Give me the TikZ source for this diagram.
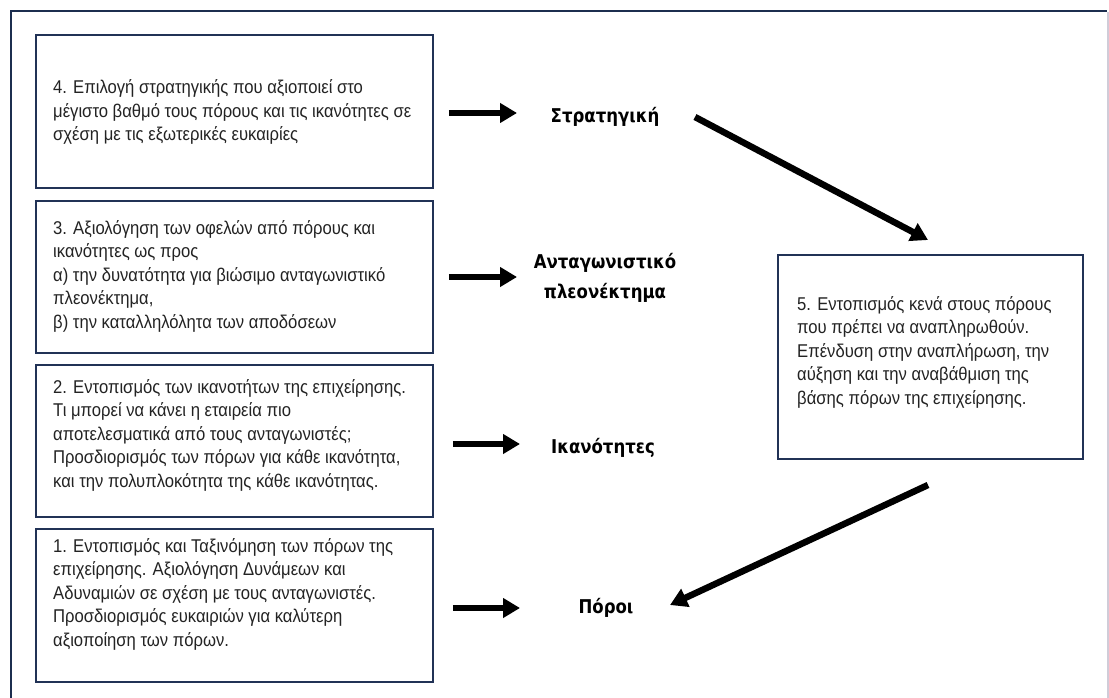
\documentclass[tikz,border=0pt]{standalone}
\usepackage{fontspec}
\usetikzlibrary{arrows.meta}
\newfontfamily\bodyfont{Liberation Sans}[FakeStretch=0.9]
\newfontfamily\labelfont{DejaVu Sans}[FakeStretch=0.87]
\definecolor{frameblue}{RGB}{28,46,79}
\definecolor{boxblue}{RGB}{33,50,86}
\definecolor{textgray}{RGB}{35,35,35}
\definecolor{edgegray}{RGB}{208,204,216}
\tikzset{
  stagebox/.style={draw=boxblue, line width=1.6pt, inner sep=0pt},
  stagetext/.style={anchor=west, inner sep=0pt, align=left, text=textgray,
    font={\bodyfont\fontsize{18.5}{23.5}\selectfont}},
  outcome/.style={inner sep=0pt, align=center, text=black,
    font={\labelfont\bfseries\fontsize{19}{30}\selectfont}},
  bigarrow/.style={line width=6.5pt, -{Triangle[length=17pt,width=19pt]}},
}
\begin{document}
\begin{tikzpicture}[x=1pt,y=-1pt]
  \useasboundingbox (0,0) rectangle (1109,698);
  \fill[white] (0,0) rectangle (1109,698);

  % surrounding frame: dark on the left and top, light on the right
  \draw[edgegray, line width=1.5pt] (1108,12) -- (1108,698);
  \draw[frameblue, line width=2.5pt] (11,698) -- (11,11) -- (1107,11);

  % the five stages
  \node[stagebox, minimum width=397pt, minimum height=153pt] (b4) at (234.5,111.5) {};
  \node[stagebox, minimum width=397pt, minimum height=152pt] (b3) at (234.5,277) {};
  \node[stagebox, minimum width=397pt, minimum height=152pt] (b2) at (234.5,441) {};
  \node[stagebox, minimum width=397pt, minimum height=153pt] (b1) at (234.5,605.5) {};
  \node[stagebox, minimum width=305pt, minimum height=204pt] (b5) at (930.5,357) {};

  \node[stagetext] (t4) at (53,112) {4. Επιλογή στρατηγικής που αξιοποιεί στο\\
    μέγιστο βαθμό τους πόρους και τις ικανότητες σε\\
    σχέση με τις εξωτερικές ευκαιρίες};
  \node[stagetext] (t3) at (53,276) {3. Αξιολόγηση των οφελών από πόρους και\\
    ικανότητες ως προς\\
    α) την δυνατότητα για βιώσιμο ανταγωνιστικό\\
    πλεονέκτημα,\\
    β) την καταλληλόλητα των αποδόσεων};
  \node[stagetext] (t2) at (53,435) {2. Εντοπισμός των ικανοτήτων της επιχείρησης.\\
    Τι μπορεί να κάνει η εταιρεία πιο\\
    αποτελεσματικά από τους ανταγωνιστές;\\
    Προσδιορισμός των πόρων για κάθε ικανότητα,\\
    και την πολυπλοκότητα της κάθε ικανότητας.};
  \node[stagetext] (t1) at (53,594) {1. Εντοπισμός και Ταξινόμηση των πόρων της\\
    επιχείρησης. Αξιολόγηση Δυνάμεων και\\
    Αδυναμιών σε σχέση με τους ανταγωνιστές.\\
    Προσδιορισμός ευκαιριών για καλύτερη\\
    αξιοποίηση των πόρων.};
  \node[stagetext] (t5) at (797,352) {5. Εντοπισμός κενά στους πόρους\\
    που πρέπει να αναπληρωθούν.\\
    Επένδυση στην αναπλήρωση, την\\
    αύξηση και την αναβάθμιση της\\
    βάσης πόρων της επιχείρησης.};

  % outcomes
  \node[outcome] (strat) at (605,117) {Στρατηγική};
  \node[outcome] (adv)   at (605,278) {Ανταγωνιστικό\\πλεονέκτημα};
  \node[outcome] (cap)   at (603,448) {Ικανότητες};
  \node[outcome] (res)   at (606,608) {Πόροι};

  % arrow ends
  \coordinate (e4) at (517,113);
  \coordinate (e3) at (517,277);
  \coordinate (e2) at (520,444);
  \coordinate (e1) at (520,608);
  \coordinate (d1s) at (695,117);
  \coordinate (d1e) at (928,240);
  \coordinate (d2s) at (928,485);
  \coordinate (d2e) at (670,605);

  \draw[bigarrow] ([xshift=15pt]b4.east |- e4) -- (e4);
  \draw[bigarrow] ([xshift=15pt]b3.east |- e3) -- (e3);
  \draw[bigarrow] ([xshift=19pt]b2.east |- e2) -- (e2);
  \draw[bigarrow] ([xshift=19pt]b1.east |- e1) -- (e1);

  \draw[bigarrow] (d1s) -- (d1e);
  \draw[bigarrow] (d2s) -- (d2e);
\end{tikzpicture}
\end{document}
